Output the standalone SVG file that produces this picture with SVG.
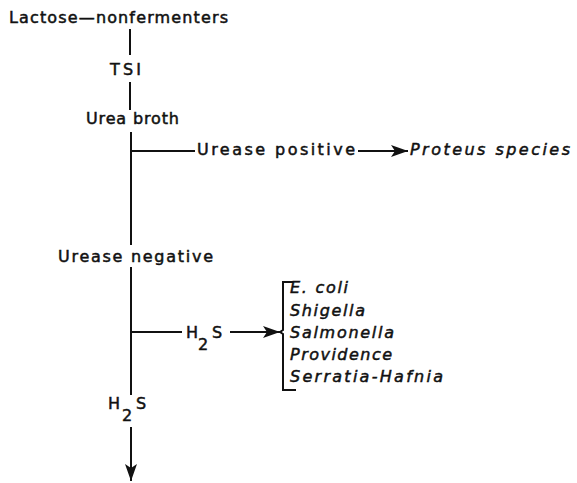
<svg xmlns="http://www.w3.org/2000/svg" width="577" height="483" viewBox="0 0 577 483">
<style>
.t{font-family:"DejaVu Sans","Liberation Sans",Arial,sans-serif;font-size:16px;font-weight:normal;fill:#111;stroke:#111;stroke-width:0.5;}
.i{font-style:italic;}
.c{stroke:#111;stroke-width:2;fill:none;}
</style>
<defs>
<marker id="ah" markerUnits="userSpaceOnUse" markerWidth="18" markerHeight="12" refX="17" refY="6" orient="auto">
<path d="M0,0 L17,6 L0,12 L4,6 Z" fill="#111"/>
</marker>
</defs>
<rect width="577" height="483" fill="#fff"/>
<g id="connectors">
<line class="c" x1="130" y1="29" x2="130" y2="55"/>
<line class="c" x1="130" y1="82" x2="130" y2="110"/>
<line class="c" x1="131" y1="132" x2="131" y2="245"/>
<line class="c" x1="131" y1="151" x2="195" y2="151"/>
<line class="c" x1="358" y1="151" x2="408" y2="151" marker-end="url(#ah)"/>
<line class="c" x1="131" y1="267" x2="131" y2="395"/>
<line class="c" x1="131" y1="332" x2="182" y2="332"/>
<line class="c" x1="230" y1="332" x2="280" y2="332" marker-end="url(#ah)"/>
<line class="c" x1="131" y1="427" x2="131" y2="481" marker-end="url(#ah)"/>
</g>
<g id="lactose"><text class="t" x="9" y="23" textLength="219" lengthAdjust="spacing">Lactose—nonfermenters</text></g>
<g id="tsi"><text class="t" x="110" y="75" textLength="31" lengthAdjust="spacing">TSI</text></g>
<g id="urea-broth"><text class="t" x="86" y="124" textLength="93" lengthAdjust="spacing">Urea broth</text></g>
<g id="urease-positive"><text class="t" x="197" y="155" textLength="158" lengthAdjust="spacing">Urease positive</text></g>
<g id="proteus"><text class="t i" x="410" y="155" textLength="160" lengthAdjust="spacing">Proteus species</text></g>
<g id="urease-negative"><text class="t" x="58" y="262" textLength="155" lengthAdjust="spacing">Urease negative</text></g>
<g id="h2s-positive"><text class="t" x="186" y="338">H</text><text class="t" x="198" y="350">2</text><text class="t" x="212" y="338">S</text></g>
<g id="species-group">
<path class="c" d="M293,282 H283 V330 L280,332 L283,334 V390 H296"/>
<text class="t i" x="290" y="293" textLength="58" lengthAdjust="spacing">E. coli</text>
<text class="t i" x="290" y="316" textLength="75" lengthAdjust="spacing">Shigella</text>
<text class="t i" x="290" y="338" textLength="104" lengthAdjust="spacing">Salmonella</text>
<text class="t i" x="290" y="360" textLength="102" lengthAdjust="spacing">Providence</text>
<text class="t i" x="290" y="382" textLength="153" lengthAdjust="spacing">Serratia-Hafnia</text>
</g>
<g id="h2s-negative"><text class="t" x="108" y="409">H</text><text class="t" x="122" y="421">2</text><text class="t" x="136" y="409">S</text></g>
</svg>
